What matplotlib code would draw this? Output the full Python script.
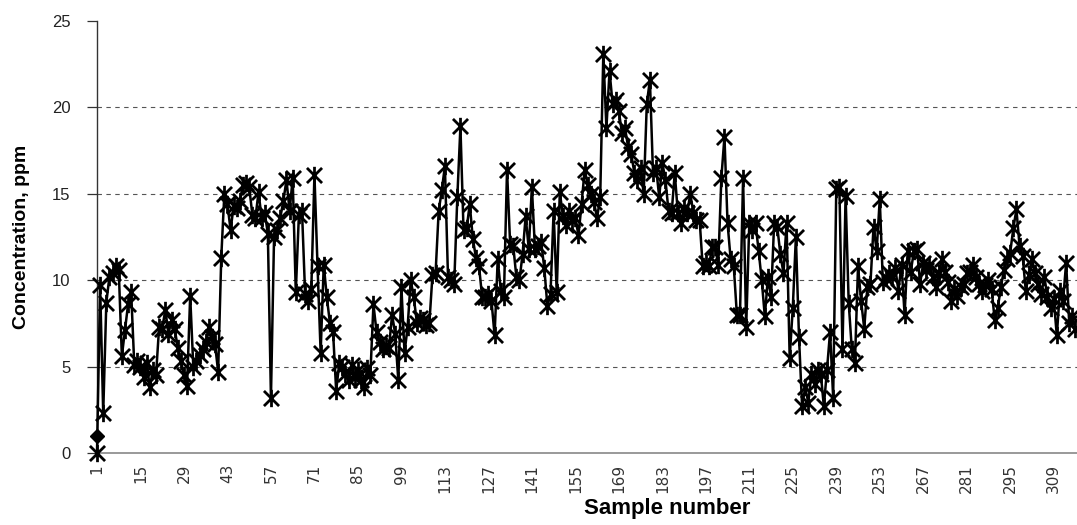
import numpy as np
import matplotlib
matplotlib.use("Agg")
import matplotlib.pyplot as plt
from matplotlib.path import Path

# ---- data ----
concentration = [
    0.0, 9.7, 2.3, 8.7, 10.2, 10.4, 10.8, 10.6, 5.6, 7.1,      # 1-10
    8.6, 9.3, 5.1, 5.3, 5.0, 4.4, 5.2, 3.8, 4.8, 4.5,          # 11-20
    7.3, 7.2, 8.3, 6.9, 7.7, 7.2, 6.1, 5.3, 4.5, 3.9,          # 21-30
    9.1, 5.0, 5.3, 5.7, 6.0, 6.4, 7.3, 6.7, 6.3, 4.7,          # 31-40
    11.3, 15.0, 14.4, 12.9, 14.3, 14.2, 14.6, 15.5, 15.6, 15.4,  # 41-50
    13.8, 13.6, 15.1, 13.6, 13.9, 12.7, 3.2, 12.5, 12.9, 13.6,   # 51-60
    14.6, 15.8, 14.0, 15.9, 9.3, 13.8, 14.0, 9.2, 8.8, 9.5,      # 61-70
    16.1, 10.8, 5.8, 10.9, 9.0, 7.5, 7.0, 3.6, 5.2, 5.0,         # 71-80
    4.6, 4.2, 5.1, 4.4, 4.8, 4.2, 3.8, 4.9, 4.5, 8.6,            # 81-90
    7.0, 6.4, 6.0, 6.2, 6.1, 8.0, 6.9, 4.2, 9.6, 5.8,            # 91-100
    7.3, 10.0, 9.0, 7.5, 7.8, 7.7, 7.4, 7.5, 10.3, 10.4,         # 101-110
    14.0, 15.2, 16.6, 10.2, 10.0, 9.8, 14.8, 18.9, 12.9, 13.0,   # 111-120
    14.4, 12.4, 11.3, 10.8, 9.0, 9.0, 9.2, 8.8, 6.8, 11.2,       # 121-130
    9.4, 9.0, 16.4, 12.1, 12.0, 10.2, 10.0, 11.5, 13.7, 11.8,    # 131-140
    15.4, 11.8, 12.0, 12.2, 10.7, 8.5, 9.2, 14.0, 9.3, 15.1,     # 141-150
    13.7, 13.2, 14.0, 13.5, 13.6, 12.6, 14.4, 16.4, 15.5, 15.0,  # 151-160
    14.5, 13.6, 14.8, 23.1, 18.8, 22.1, 20.2, 20.4, 19.8, 18.5,  # 161-170
    18.8, 17.7, 17.3, 16.2, 15.8, 16.5, 15.0, 20.2, 21.6, 16.2,  # 171-180
    16.5, 14.8, 16.8, 15.8, 14.0, 13.9, 16.2, 13.9, 13.3, 14.2,  # 181-190
    13.9, 15.0, 13.9, 13.5, 13.5, 10.8, 11.0, 10.8, 11.9, 11.9,  # 191-200
    10.9, 15.9, 18.3, 13.3, 11.2, 10.8, 8.0, 8.0, 15.9, 7.3,     # 201-210
    13.3, 12.9, 13.3, 11.7, 10.0, 7.9, 10.2, 9.0, 13.3, 13.1,    # 211-220
    11.5, 10.4, 13.3, 5.5, 8.4, 12.5, 6.7, 2.7, 3.8, 2.9,        # 221-230
    4.6, 4.0, 4.8, 4.6, 2.7, 4.8, 7.0, 3.2, 15.3, 15.4,          # 231-240
    6.0, 14.9, 8.7, 6.0, 5.2, 10.8, 8.8, 7.2, 9.6, 9.8,          # 241-250
    13.1, 11.7, 14.7, 9.9, 10.1, 10.4, 10.2, 10.7, 9.4, 10.9,    # 251-260
    8.0, 11.7, 10.5, 11.7, 11.8, 9.8, 11.0, 10.6, 10.9, 10.2,    # 261-270
    9.6, 10.4, 11.2, 10.5, 9.9, 8.8, 9.5, 9.1, 9.6, 9.8,         # 271-280
    10.4, 10.5, 10.9, 10.2, 9.8, 9.4, 9.7, 10.0, 9.5, 7.7,       # 281-290
    8.4, 9.6, 10.6, 11.2, 11.6, 13.0, 14.1, 12.0, 11.4, 9.4,     # 291-300
    10.3, 11.2, 10.4, 9.8, 9.2, 10.2, 9.0, 8.4, 8.9, 6.8,        # 301-310
    9.4, 8.8, 11.0, 7.5, 7.9, 7.2,                               # 311-316
]
sample_numbers = list(range(1, len(concentration) + 1))

# second series: only one value shown (diamond at sample 1)
second_x = [1]
second_y = [1.0]

y_ticks = [0, 5, 10, 15, 20, 25]
x_ticks = list(range(1, 310, 14))

# ---- figure ----
fig = plt.figure(figsize=(10.77, 5.25), dpi=100)
ax = fig.add_axes([97 / 1077, 1 - 453 / 525, 1 - 97 / 1077, (453 - 21) / 525])

# Excel-like star marker (X plus vertical bar)
star = Path(
    [(-1, -1), (1, 1), (-1, 1), (1, -1), (0, -1.15), (0, 1.15)],
    [Path.MOVETO, Path.LINETO, Path.MOVETO, Path.LINETO, Path.MOVETO, Path.LINETO],
)

ax.plot(sample_numbers, concentration, color="black", lw=1.8,
        marker=star, markersize=12.5, markeredgewidth=2.0,
        markerfacecolor="none", markeredgecolor="black", zorder=3,
        clip_on=False)
ax.plot(second_x, second_y, color="black", lw=1.0, marker="D",
        markersize=7, zorder=4, clip_on=False)

ax.set_xlim(1, len(concentration) + 0.5)
ax.set_ylim(0, 25)

ax.set_yticks(y_ticks)
ax.set_yticklabels([str(t) for t in y_ticks], fontsize=12,
                   family=["Liberation Sans", "DejaVu Sans"], color="#222222")
ax.set_xticks(x_ticks)
ax.set_xticklabels([str(t) for t in x_ticks], rotation=90, fontsize=11,
                   family=["Liberation Sans Narrow", "DejaVu Sans"],
                   color="#333333")

for v in [5, 10, 15, 20]:
    ax.axhline(v, color="#555555", lw=0.8, ls=(0, (4, 4)), zorder=1)

ax.spines["top"].set_visible(False)
ax.spines["right"].set_visible(False)
ax.spines["left"].set_color("#333333")
ax.spines["left"].set_linewidth(1.0)
ax.spines["bottom"].set_color("#888888")
ax.spines["bottom"].set_linewidth(1.2)

ax.tick_params(axis="y", direction="out", length=7, width=0.9,
               color="#333333", pad=12)
ax.tick_params(axis="x", length=0, pad=8)

ax.set_ylabel("Concentration, ppm", fontsize=14, fontweight="bold",
              family=["Liberation Sans", "DejaVu Sans"], labelpad=16)
ax.set_xlabel("Sample number", fontsize=16, fontweight="bold",
              family=["Liberation Sans", "DejaVu Sans"])
ax.xaxis.set_label_coords((667 - 97) / 980, -0.105)

fig.savefig("out.png", dpi=100)
